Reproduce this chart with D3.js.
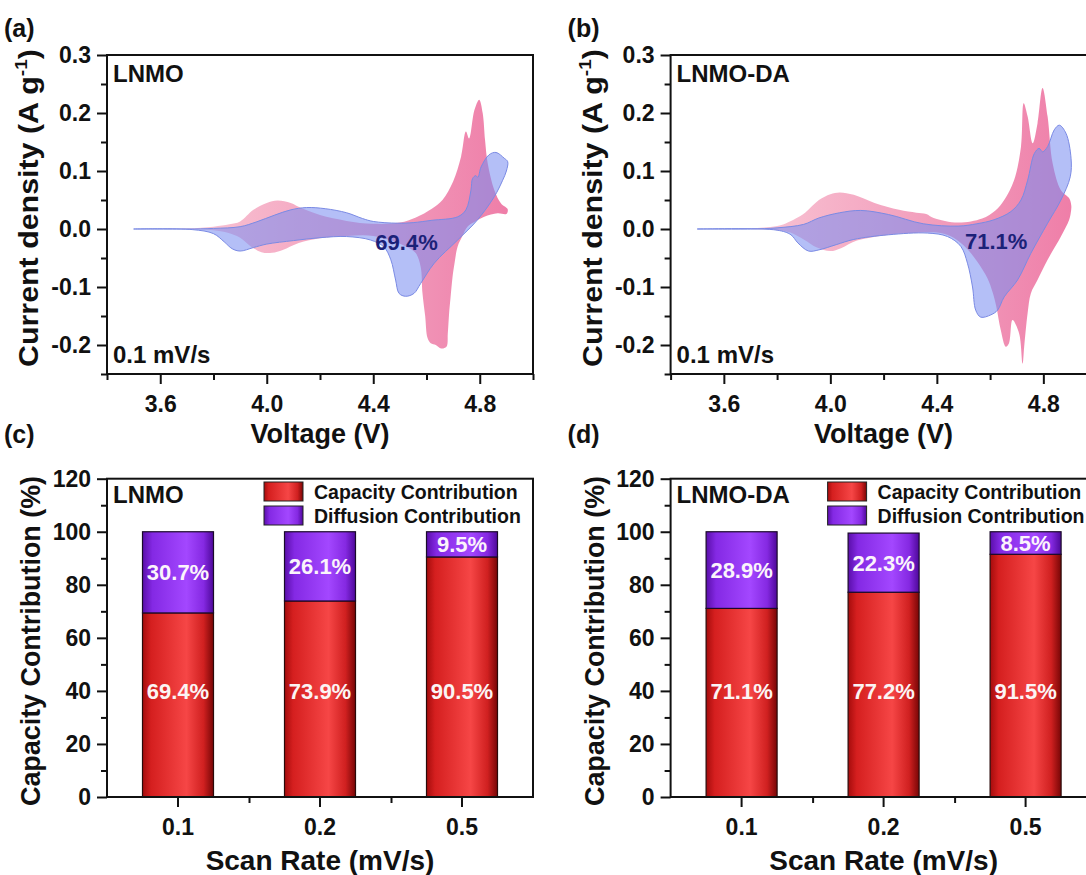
<!DOCTYPE html>
<html>
<head>
<meta charset="utf-8">
<script src="https://cdn.jsdelivr.net/npm/d3@7"></script>
<style>
  html, body { margin: 0; padding: 0; background: #fff; }
  svg text { font-family: "Liberation Sans", Arial, sans-serif; font-weight: bold; }
</style>
</head>
<body>
<svg id="fig" width="1086" height="875"></svg>
<script>
'use strict';

// ── CV loops, [voltage V, current A/g] — anodic sweep then cathodic sweep ──
const lnmoTotalAnodic = [[3.50,0.000],[3.70,0.001],[3.80,0.004],[3.86,0.008],[3.90,0.013],[3.95,0.033],[4.00,0.045],[4.04,0.049],[4.09,0.045],[4.13,0.036],[4.20,0.024],[4.30,0.014],[4.40,0.009],[4.50,0.011],[4.56,0.020],[4.62,0.035],[4.66,0.050],[4.70,0.082],[4.73,0.125],[4.748,0.168],[4.76,0.156],[4.78,0.205],[4.798,0.223],[4.811,0.200],[4.82,0.153],[4.83,0.113],[4.855,0.067],[4.88,0.044],[4.905,0.034]];
const lnmoTotalCathodic = [[4.90,0.026],[4.867,0.027],[4.817,0.021],[4.78,0.012],[4.754,0.004],[4.735,-0.012],[4.717,-0.030],[4.705,-0.060],[4.698,-0.082],[4.69,-0.120],[4.685,-0.145],[4.68,-0.180],[4.675,-0.203],[4.655,-0.206],[4.635,-0.200],[4.616,-0.197],[4.604,-0.188],[4.595,-0.150],[4.585,-0.111],[4.578,-0.065],[4.56,-0.042],[4.53,-0.032],[4.48,-0.022],[4.40,-0.012],[4.30,-0.012],[4.20,-0.016],[4.12,-0.024],[4.06,-0.036],[4.02,-0.041],[3.98,-0.040],[3.94,-0.030],[3.90,-0.015],[3.85,-0.006],[3.80,-0.002],[3.70,0.000]];
const lnmoCapAnodic = [[3.50,0.000],[3.70,0.000],[3.80,0.001],[3.90,0.004],[3.96,0.012],[4.03,0.024],[4.09,0.033],[4.15,0.037],[4.22,0.035],[4.30,0.028],[4.36,0.018],[4.40,0.013],[4.49,0.010],[4.55,0.011],[4.62,0.015],[4.717,0.021],[4.748,0.033],[4.767,0.067],[4.773,0.087],[4.785,0.092],[4.793,0.089],[4.805,0.107],[4.835,0.128],[4.861,0.132],[4.892,0.122],[4.905,0.116]];
const lnmoCapCathodic = [[4.90,0.100],[4.886,0.084],[4.855,0.056],[4.792,0.016],[4.717,-0.019],[4.629,-0.059],[4.578,-0.094],[4.553,-0.111],[4.522,-0.116],[4.497,-0.111],[4.484,-0.088],[4.466,-0.053],[4.44,-0.031],[4.39,-0.019],[4.30,-0.013],[4.20,-0.015],[4.10,-0.020],[4.00,-0.026],[3.95,-0.032],[3.90,-0.038],[3.87,-0.034],[3.84,-0.022],[3.80,-0.008],[3.72,-0.001]];

const daTotalAnodic = [[3.50,0.000],[3.70,0.001],[3.80,0.005],[3.83,0.009],[3.87,0.018],[3.905,0.028],[3.957,0.050],[4.00,0.060],[4.035,0.063],[4.088,0.059],[4.166,0.045],[4.258,0.033],[4.323,0.028],[4.36,0.026],[4.388,0.019],[4.48,0.011],[4.57,0.018],[4.62,0.032],[4.653,0.050],[4.69,0.084],[4.716,0.142],[4.726,0.217],[4.741,0.194],[4.76,0.148],[4.778,0.182],[4.797,0.243],[4.816,0.194],[4.835,0.113],[4.866,0.067],[4.897,0.053],[4.905,0.040]];
const daTotalCathodic = [[4.903,0.028],[4.897,0.016],[4.866,-0.013],[4.816,-0.053],[4.778,-0.088],[4.753,-0.111],[4.741,-0.145],[4.728,-0.203],[4.722,-0.232],[4.709,-0.180],[4.684,-0.157],[4.671,-0.197],[4.659,-0.203],[4.64,-0.174],[4.623,-0.133],[4.61,-0.110],[4.59,-0.085],[4.55,-0.055],[4.50,-0.028],[4.45,-0.012],[4.40,-0.006],[4.30,-0.007],[4.20,-0.011],[4.10,-0.020],[4.04,-0.033],[4.00,-0.038],[3.95,-0.032],[3.90,-0.018],[3.85,-0.006],[3.80,-0.002],[3.70,0.000]];
const daCapAnodic = [[3.50,0.000],[3.70,0.000],[3.80,0.002],[3.90,0.008],[3.957,0.019],[4.035,0.028],[4.114,0.032],[4.218,0.025],[4.349,0.009],[4.48,0.005],[4.55,0.009],[4.615,0.016],[4.678,0.030],[4.716,0.050],[4.741,0.084],[4.766,0.130],[4.784,0.139],[4.797,0.133],[4.816,0.142],[4.841,0.171],[4.86,0.179],[4.885,0.165],[4.904,0.122]];
const daCapCathodic = [[4.901,0.090],[4.866,0.050],[4.816,0.010],[4.753,-0.042],[4.703,-0.088],[4.653,-0.117],[4.628,-0.140],[4.603,-0.148],[4.565,-0.152],[4.546,-0.140],[4.534,-0.100],[4.515,-0.059],[4.49,-0.030],[4.44,-0.013],[4.364,-0.007],[4.218,-0.010],[4.088,-0.018],[4.022,-0.027],[3.957,-0.036],[3.918,-0.038],[3.878,-0.024],[3.852,-0.010],[3.80,-0.002]];

// ── CV axis ticks ──
const cvMajorX = [3.6, 4.0, 4.4, 4.8];
const cvMinorX = [3.4, 3.8, 4.2, 4.6, 5.0];
const cvMajorY = [-0.2, -0.1, 0.0, 0.1, 0.2, 0.3];
const cvMinorY = [-0.25, -0.15, -0.05, 0.05, 0.15, 0.25];

// ── Bar charts ──
const scanRates = ['0.1', '0.2', '0.5'];
const lnmoCapacity  = [69.4, 73.9, 90.5];
const lnmoDiffusion = [30.7, 26.1, 9.5];
const daCapacity    = [71.1, 77.2, 91.5];
const daDiffusion   = [28.9, 22.3, 8.5];
const barMajorY = [0, 20, 40, 60, 80, 100, 120];
const barMinorY = [10, 30, 50, 70, 90, 110];

const svg = d3.select('#fig');
const defs = svg.append('defs');

function hGrad(id, stops) {
  const g = defs.append('linearGradient').attr('id', id)
    .attr('x1', 0).attr('x2', 1).attr('y1', 0).attr('y2', 0);
  stops.forEach(([o, c]) => g.append('stop').attr('offset', o).attr('stop-color', c));
}
hGrad('redBar',    [[0, '#a50c0c'], [0.12, '#d51f1f'], [0.62, '#f64646'], [0.86, '#d02020'], [1, '#780606']]);
hGrad('purpleBar', [[0, '#5a0eaa'], [0.14, '#8429e4'], [0.62, '#a347ff'], [0.86, '#8529e2'], [1, '#4e089a']]);
hGrad('pinkFill',  [[0, '#fad2de'], [0.35, '#f6b3c9'], [0.8, '#f090b4'], [1, '#ef7ea8']]);

function styleAxis(sel, size) {
  sel.select('.domain').remove();
  sel.selectAll('line').attr('stroke', '#111').attr('stroke-width', 2);
  sel.selectAll('text').attr('fill', '#111').attr('font-size', size + 'px');
}

function text(g, x, y, str, size, anchor, fill) {
  return g.append('text').attr('x', x).attr('y', y)
    .attr('font-size', size + 'px').attr('text-anchor', anchor || 'start')
    .attr('fill', fill || '#111').text(str);
}

const fmt1 = v => v.toFixed(1);

// ── CV panel ──
function cvPanel(left, total, cap, name, pct, pctV, pctI, letter) {
  const W = 426, top = 55, bottom = 374;
  const x = d3.scaleLinear().domain([3.4, 5.0]).range([left, left + W]);
  const y = d3.scaleLinear().domain([-0.25, 0.3]).range([bottom, top]);
  const g = svg.append('g');

  const loop = d3.line().x(d => x(d[0])).y(d => y(d[1]))
    .curve(d3.curveCatmullRomClosed.alpha(0.5));

  g.append('path').attr('d', loop(total)).attr('fill', 'url(#pinkFill)').attr('stroke', 'none');
  g.append('path').attr('d', loop(cap))
    .attr('fill', 'rgb(122,140,240)').attr('fill-opacity', 0.56)
    .attr('stroke', '#7a8ae4').attr('stroke-width', 1);

  g.append('g').attr('transform', `translate(0,${bottom})`)
    .call(d3.axisBottom(x).tickValues(cvMinorX).tickSize(6).tickFormat(''))
    .call(s => styleAxis(s, 23));
  g.append('g').attr('transform', `translate(0,${bottom})`)
    .call(d3.axisBottom(x).tickValues(cvMajorX).tickSize(10).tickPadding(12).tickFormat(fmt1))
    .call(s => styleAxis(s, 23));
  g.append('g').attr('transform', `translate(${left},0)`)
    .call(d3.axisLeft(y).tickValues(cvMinorY).tickSize(6).tickFormat(''))
    .call(s => styleAxis(s, 23));
  g.append('g').attr('transform', `translate(${left},0)`)
    .call(d3.axisLeft(y).tickValues(cvMajorY).tickSize(10).tickPadding(6).tickFormat(fmt1))
    .call(s => styleAxis(s, 23));

  g.append('rect').attr('x', left).attr('y', top).attr('width', W).attr('height', bottom - top)
    .attr('fill', 'none').attr('stroke', '#111').attr('stroke-width', 2);

  text(g, left + 6, 82, name, 24);
  text(g, left + 6, 363, '0.1 mV/s', 24);
  text(g, x(pctV), y(pctI), pct, 22, 'middle', '#1b2178');

  text(g, left + 213, 443, 'Voltage (V)', 27, 'middle');

  const yt = g.append('text').attr('font-size', '27px').attr('fill', '#111')
    .attr('text-anchor', 'middle')
    .attr('textLength', 318).attr('lengthAdjust', 'spacingAndGlyphs')
    .attr('transform', `translate(${left - 69},208) rotate(-90)`);
  yt.append('tspan').text('Current density (A g');
  yt.append('tspan').attr('font-size', '17px').attr('dy', '-11').text('-1');
  yt.append('tspan').attr('dy', '11').text(')');

  text(g, left - 103, 37, letter, 25);
}

// ── Stacked bar panel ──
function barPanel(left, capVals, diffVals, name, letter) {
  const W = 426, top = 478.7, bottom = 797;
  const x = d3.scaleBand().domain(scanRates).range([left, left + W])
    .paddingInner(0.5).paddingOuter(0.25);
  const xb = d3.scaleLinear().domain([0, scanRates.length]).range([left, left + W]);
  const y = d3.scaleLinear().domain([0, 120]).range([bottom, top]);
  const g = svg.append('g');

  const rows = scanRates.map((r, i) => ({ rate: r, cap: capVals[i], diff: diffVals[i] }));

  g.selectAll('rect.cap').data(rows).join('rect').attr('class', 'cap')
    .attr('x', d => x(d.rate)).attr('width', x.bandwidth())
    .attr('y', d => y(d.cap)).attr('height', d => y(0) - y(d.cap))
    .attr('fill', 'url(#redBar)').attr('stroke', '#2a0a0a').attr('stroke-width', 1.2);
  g.selectAll('rect.diff').data(rows).join('rect').attr('class', 'diff')
    .attr('x', d => x(d.rate)).attr('width', x.bandwidth())
    .attr('y', d => y(Math.min(100, d.cap + d.diff))).attr('height', d => y(d.cap) - y(Math.min(100, d.cap + d.diff)))
    .attr('fill', 'url(#purpleBar)').attr('stroke', '#1a0a2a').attr('stroke-width', 1.2);

  g.selectAll('text.capl').data(rows).join('text').attr('class', 'capl')
    .attr('x', d => x(d.rate) + x.bandwidth() / 2).attr('y', y(40)).attr('dy', '0.36em')
    .attr('text-anchor', 'middle').attr('font-size', '22px').attr('fill', '#fbf4f4')
    .text(d => d.cap.toFixed(1) + '%');
  g.selectAll('text.diffl').data(rows).join('text').attr('class', 'diffl')
    .attr('x', d => x(d.rate) + x.bandwidth() / 2).attr('y', d => y(d.cap + d.diff / 2)).attr('dy', '0.36em')
    .attr('text-anchor', 'middle').attr('font-size', '22px').attr('fill', '#fbf4fb')
    .text(d => d.diff.toFixed(1) + '%');

  g.append('g').attr('transform', `translate(0,${bottom})`)
    .call(d3.axisBottom(xb).tickValues([1, 2]).tickSize(6).tickFormat(''))
    .call(s => styleAxis(s, 23));
  g.append('g').attr('transform', `translate(0,${bottom})`)
    .call(d3.axisBottom(x).tickSize(10).tickPadding(12))
    .call(s => styleAxis(s, 23));
  g.append('g').attr('transform', `translate(${left},0)`)
    .call(d3.axisLeft(y).tickValues(barMinorY).tickSize(6).tickFormat(''))
    .call(s => styleAxis(s, 23));
  g.append('g').attr('transform', `translate(${left},0)`)
    .call(d3.axisLeft(y).tickValues(barMajorY).tickSize(10).tickPadding(6))
    .call(s => styleAxis(s, 23));

  g.append('rect').attr('x', left).attr('y', top).attr('width', W).attr('height', bottom - top)
    .attr('fill', 'none').attr('stroke', '#111').attr('stroke-width', 2);

  text(g, left + 6, 503, name, 24);

  // legend
  const lg = g.append('g');
  [['url(#redBar)', 'Capacity Contribution', 482], ['url(#purpleBar)', 'Diffusion Contribution', 506]]
    .forEach(([fill, label, yy]) => {
      lg.append('rect').attr('x', left + 157).attr('y', yy).attr('width', 39).attr('height', 19)
        .attr('fill', fill).attr('stroke', '#222').attr('stroke-width', 1);
      text(lg, left + 207, yy + 17, label, 19.5);
    });

  text(g, left + 213, 870, 'Scan Rate (mV/s)', 28, 'middle');
  g.append('text').attr('font-size', '27px').attr('fill', '#111').attr('text-anchor', 'middle')
    .attr('textLength', 330).attr('lengthAdjust', 'spacingAndGlyphs')
    .attr('transform', `translate(${left - 67},641) rotate(-90)`)
    .text('Capacity Contribution (%)');

  text(g, left - 103, 443, letter, 25);
}

cvPanel(107, lnmoTotalAnodic.concat(lnmoTotalCathodic), lnmoCapAnodic.concat(lnmoCapCathodic), 'LNMO', '69.4%', 4.525, -0.037, '(a)');
cvPanel(670.6, daTotalAnodic.concat(daTotalCathodic), daCapAnodic.concat(daCapCathodic), 'LNMO-DA', '71.1%', 4.623, -0.034, '(b)');
barPanel(107, lnmoCapacity, lnmoDiffusion, 'LNMO', '(c)');
barPanel(670.6, daCapacity, daDiffusion, 'LNMO-DA', '(d)');
</script>
</body>
</html>
